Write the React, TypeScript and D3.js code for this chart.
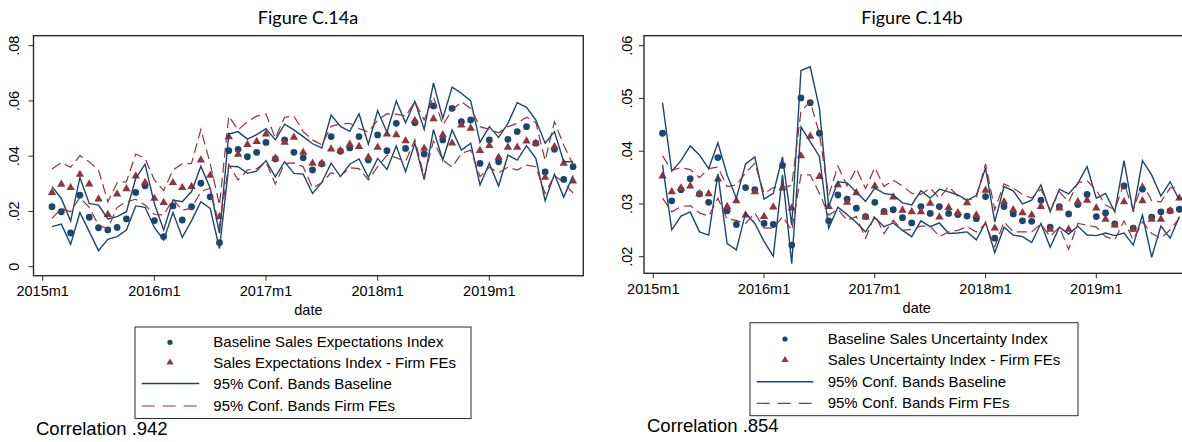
import React from 'react';
import * as d3 from 'd3';

// ---------- DATA ----------
const months = [
  "2015m2","2015m3","2015m4","2015m5","2015m6","2015m7","2015m8","2015m9","2015m10","2015m11","2015m12",
  "2016m1","2016m2","2016m3","2016m4","2016m5","2016m6","2016m7","2016m8","2016m9","2016m10","2016m11","2016m12",
  "2017m1","2017m2","2017m3","2017m4","2017m5","2017m6","2017m7","2017m8","2017m9","2017m10","2017m11","2017m12",
  "2018m1","2018m2","2018m3","2018m4","2018m5","2018m6","2018m7","2018m8","2018m9","2018m10","2018m11","2018m12",
  "2019m1","2019m2","2019m3","2019m4","2019m5","2019m6","2019m7","2019m8","2019m9","2019m10"
];
const xTickLabels = ["2015m1", "2016m1", "2017m1", "2018m1", "2019m1"];
const leftYTicks = [0, 0.02, 0.04, 0.06, 0.08];
const rightYTicks = [0.02, 0.03, 0.04, 0.05, 0.06];

// Figure C.14a : Sales Expectations
const expBaseline = [0.0217,0.0199,0.0122,0.0259,0.0179,0.0141,0.0133,0.0142,0.0173,0.0269,0.0293,0.0167,0.0109,0.0220,0.0169,0.0217,0.0302,0.0253,0.0087,0.0420,0.0425,0.0398,0.0414,0.0450,0.0390,0.0459,0.0414,0.0394,0.0350,0.0372,0.0471,0.0418,0.0430,0.0471,0.0386,0.0477,0.0420,0.0519,0.0428,0.0521,0.0408,0.0582,0.0459,0.0573,0.0525,0.0531,0.0374,0.0459,0.0380,0.0461,0.0489,0.0507,0.0447,0.0343,0.0425,0.0316,0.0362];
const expFirmFE = [0.0268,0.0298,0.0286,0.0334,0.0299,0.0245,0.0189,0.0263,0.0282,0.0328,0.0305,0.0247,0.0232,0.0304,0.0286,0.0290,0.0386,0.0331,0.0181,0.0470,0.0407,0.0442,0.0453,0.0480,0.0392,0.0450,0.0468,0.0414,0.0374,0.0374,0.0426,0.0420,0.0443,0.0435,0.0396,0.0432,0.0480,0.0477,0.0456,0.0529,0.0428,0.0535,0.0477,0.0447,0.0513,0.0501,0.0420,0.0438,0.0396,0.0432,0.0432,0.0455,0.0447,0.0323,0.0434,0.0374,0.0310];
const expBaseUpper = [0.0290,0.0247,0.0165,0.0323,0.0229,0.0223,0.0173,0.0181,0.0199,0.0320,0.0371,0.0229,0.0133,0.0241,0.0235,0.0272,0.0364,0.0284,0.0121,0.0480,0.0489,0.0462,0.0478,0.0500,0.0459,0.0516,0.0495,0.0471,0.0445,0.0430,0.0549,0.0508,0.0490,0.0553,0.0443,0.0565,0.0487,0.0600,0.0521,0.0598,0.0497,0.0665,0.0537,0.0650,0.0628,0.0600,0.0450,0.0507,0.0468,0.0519,0.0594,0.0577,0.0531,0.0447,0.0489,0.0380,0.0380];
const expBaseLower = [0.0145,0.0154,0.0081,0.0196,0.0127,0.0058,0.0099,0.0109,0.0133,0.0220,0.0215,0.0142,0.0097,0.0196,0.0106,0.0167,0.0235,0.0211,0.0066,0.0364,0.0362,0.0338,0.0346,0.0384,0.0325,0.0380,0.0338,0.0335,0.0265,0.0305,0.0375,0.0326,0.0371,0.0390,0.0324,0.0392,0.0352,0.0437,0.0344,0.0447,0.0315,0.0496,0.0386,0.0495,0.0422,0.0447,0.0296,0.0374,0.0292,0.0404,0.0386,0.0438,0.0392,0.0239,0.0335,0.0252,0.0330];
const expFEUpper = [0.0354,0.0377,0.0360,0.0402,0.0380,0.0350,0.0235,0.0304,0.0308,0.0408,0.0392,0.0314,0.0275,0.0350,0.0372,0.0374,0.0497,0.0374,0.0223,0.0545,0.0495,0.0525,0.0545,0.0553,0.0465,0.0541,0.0545,0.0489,0.0459,0.0441,0.0508,0.0517,0.0519,0.0500,0.0488,0.0530,0.0554,0.0552,0.0545,0.0597,0.0531,0.0615,0.0513,0.0567,0.0597,0.0573,0.0507,0.0497,0.0485,0.0507,0.0519,0.0541,0.0522,0.0385,0.0525,0.0440,0.0370];
const expFELower = [0.0175,0.0211,0.0199,0.0251,0.0215,0.0150,0.0138,0.0215,0.0235,0.0244,0.0223,0.0189,0.0187,0.0244,0.0205,0.0211,0.0272,0.0284,0.0145,0.0370,0.0314,0.0350,0.0355,0.0380,0.0299,0.0374,0.0376,0.0362,0.0285,0.0304,0.0340,0.0328,0.0358,0.0355,0.0314,0.0362,0.0404,0.0395,0.0380,0.0460,0.0326,0.0455,0.0386,0.0360,0.0410,0.0422,0.0326,0.0360,0.0340,0.0360,0.0350,0.0368,0.0362,0.0265,0.0330,0.0305,0.0266];

// Figure C.14b : Sales Uncertainty
const uncBaseline = [0.0434,0.0306,0.0327,0.0348,0.0319,0.0303,0.0388,0.0287,0.0261,0.0331,0.0327,0.0263,0.0261,0.0373,0.0222,0.0501,0.0492,0.0434,0.0268,0.0317,0.0309,0.0292,0.0276,0.0303,0.0286,0.0289,0.0274,0.0264,0.0295,0.0282,0.0295,0.0282,0.0280,0.0277,0.0272,0.0314,0.0235,0.0295,0.0281,0.0268,0.0267,0.0307,0.0256,0.0295,0.0281,0.0299,0.0318,0.0276,0.0283,0.0262,0.0334,0.0254,0.0328,0.0275,0.0285,0.0287,0.0290];
const uncFirmFE = [0.0353,0.0323,0.0330,0.0334,0.0319,0.0319,0.0347,0.0295,0.0306,0.0279,0.0323,0.0276,0.0294,0.0330,0.0292,0.0391,0.0428,0.0352,0.0295,0.0336,0.0303,0.0321,0.0275,0.0334,0.0284,0.0313,0.0288,0.0285,0.0285,0.0301,0.0275,0.0293,0.0283,0.0302,0.0279,0.0326,0.0254,0.0304,0.0289,0.0283,0.0279,0.0295,0.0252,0.0292,0.0252,0.0304,0.0307,0.0292,0.0271,0.0260,0.0304,0.0252,0.0306,0.0271,0.0271,0.0287,0.0311];
const uncBaseUpper = [0.0492,0.0362,0.0382,0.0410,0.0393,0.0367,0.0416,0.0355,0.0311,0.0376,0.0389,0.0309,0.0320,0.0389,0.0260,0.0553,0.0560,0.0481,0.0295,0.0342,0.0340,0.0322,0.0305,0.0330,0.0320,0.0317,0.0302,0.0298,0.0325,0.0311,0.0328,0.0323,0.0317,0.0307,0.0316,0.0368,0.0266,0.0333,0.0325,0.0300,0.0307,0.0336,0.0285,0.0328,0.0319,0.0339,0.0371,0.0311,0.0320,0.0285,0.0382,0.0285,0.0382,0.0355,0.0315,0.0342,0.0307];
const uncBaseLower = [0.0374,0.0251,0.0277,0.0285,0.0247,0.0241,0.0357,0.0225,0.0213,0.0283,0.0263,0.0229,0.0201,0.0355,0.0187,0.0446,0.0418,0.0390,0.0254,0.0294,0.0280,0.0265,0.0247,0.0274,0.0257,0.0264,0.0250,0.0238,0.0268,0.0257,0.0264,0.0244,0.0245,0.0247,0.0232,0.0265,0.0208,0.0256,0.0241,0.0238,0.0227,0.0263,0.0218,0.0256,0.0243,0.0258,0.0241,0.0240,0.0245,0.0240,0.0245,0.0222,0.0279,0.0199,0.0258,0.0235,0.0276];
const uncFEUpper = [0.0391,0.0364,0.0369,0.0365,0.0350,0.0367,0.0370,0.0333,0.0336,0.0359,0.0377,0.0320,0.0331,0.0331,0.0335,0.0475,0.0494,0.0433,0.0316,0.0372,0.0334,0.0367,0.0329,0.0369,0.0333,0.0345,0.0334,0.0320,0.0318,0.0330,0.0311,0.0333,0.0315,0.0307,0.0312,0.0376,0.0289,0.0338,0.0330,0.0318,0.0311,0.0328,0.0289,0.0323,0.0304,0.0340,0.0344,0.0326,0.0298,0.0289,0.0339,0.0289,0.0339,0.0306,0.0304,0.0330,0.0333];
const uncFELower = [0.0311,0.0285,0.0295,0.0297,0.0283,0.0277,0.0311,0.0271,0.0269,0.0263,0.0283,0.0254,0.0254,0.0276,0.0250,0.0355,0.0355,0.0320,0.0279,0.0290,0.0269,0.0276,0.0235,0.0279,0.0244,0.0269,0.0250,0.0252,0.0258,0.0258,0.0238,0.0247,0.0250,0.0257,0.0247,0.0263,0.0219,0.0266,0.0247,0.0247,0.0247,0.0262,0.0238,0.0256,0.0214,0.0263,0.0260,0.0256,0.0238,0.0232,0.0268,0.0232,0.0266,0.0244,0.0235,0.0251,0.0273];

const leftLegend = ["Baseline Sales Expectations Index", "Sales Expectations Index - Firm FEs", "95% Conf. Bands Baseline", "95% Conf. Bands Firm FEs"];
const rightLegend = ["Baseline Sales Uncertainty Index", "Sales Uncertainty Index - Firm FEs", "95% Conf. Bands Baseline", "95% Conf. Bands Firm FEs"];

// ---------- STYLE ----------
const NAVY = "#1a476f";
const MAROON = "#90353b";
const FRAME = "#2b2b2b";
const FONT = "'Liberation Sans', Arial, Helvetica, sans-serif";
const TITLE_FONT = "Lato, 'Open Sans', sans-serif";

const monthIndex = (s: string) => {
  const [y, m] = s.split("m").map(Number);
  return (y - 2015) * 12 + (m - 1);
};

const fmtY = (v: number) => (v === 0 ? "0" : d3.format(".2f")(v).replace(/^0/, ""));

type PanelProps = {
  frame: { l: number; t: number; r: number; b: number };
  xPx: [number, number]; // pixel of 2015m1 and 2019m1
  yDomain: [number, number];
  yRange: [number, number];
  yTicks: number[];
  yLabelX: number;
  xLabelY: number;
  dateY: number;
  title: string;
  titleX: number;
  base: number[];
  fe: number[];
  baseHi: number[];
  baseLo: number[];
  feHi: number[];
  feLo: number[];
  legend: string[];
  legendBox: { l: number; t: number; r: number; b: number };
  legendRows: number[];
  legendSymX: number;
  legendLine: [number, number];
  legendTextX: number;
  corr: string;
  corrPos: [number, number];
};

function Panel(p: PanelProps) {
  const x = d3.scaleLinear().domain([0, 48]).range(p.xPx);
  const y = d3.scaleLinear().domain(p.yDomain).range(p.yRange);
  const xs = months.map(monthIndex);
  const line = (vals: number[]) =>
    d3.line<number>().x((_, i) => x(xs[i])).y((v) => y(v))(vals) || "";
  const tri = d3.symbol().type(d3.symbolTriangle).size(30)() || "";
  const triSmall = d3.symbol().type(d3.symbolTriangle).size(22)() || "";
  const { l, t, r, b } = p.frame;
  const cx = (l + r) / 2;
  return (
    <g>
      <text x={p.titleX} y={24} textAnchor="middle" fontFamily={TITLE_FONT} fontSize={18} fill="#000">
        {p.title}
      </text>
      {/* y ticks */}
      {p.yTicks.map((v) => (
        <g key={"yt" + v}>
          <line x1={l - 5} x2={l} y1={y(v)} y2={y(v)} stroke={FRAME} strokeWidth={1} />
          <text
            transform={`translate(${p.yLabelX},${y(v)}) rotate(-90)`}
            textAnchor="middle"
            fontFamily={FONT}
            fontSize={14.5}
            fill="#000"
          >
            {fmtY(v)}
          </text>
        </g>
      ))}
      {/* x ticks */}
      {xTickLabels.map((s) => (
        <g key={"xt" + s}>
          <line x1={x(monthIndex(s))} x2={x(monthIndex(s))} y1={b} y2={b + 5} stroke={FRAME} strokeWidth={1} />
          <text x={x(monthIndex(s))} y={p.xLabelY} textAnchor="middle" fontFamily={FONT} fontSize={14.5} fill="#000">
            {s}
          </text>
        </g>
      ))}
      <text x={cx} y={p.dateY} textAnchor="middle" fontFamily={FONT} fontSize={14.5} fill="#000">
        date
      </text>
      {/* markers */}
      {p.base.map((v, i) => (
        <circle key={"c" + i} cx={x(xs[i])} cy={y(v)} r={3.4} fill={NAVY} />
      ))}
      {p.fe.map((v, i) => (
        <path key={"t" + i} d={tri} transform={`translate(${x(xs[i])},${y(v)})`} fill={MAROON} />
      ))}
      {/* bands */}
      <path d={line(p.baseHi)} fill="none" stroke={NAVY} strokeWidth={1.4} strokeLinejoin="miter" />
      <path d={line(p.baseLo)} fill="none" stroke={NAVY} strokeWidth={1.4} strokeLinejoin="miter" />
      <path d={line(p.feHi)} fill="none" stroke={MAROON} strokeWidth={1.2} strokeDasharray="10,5" />
      <path d={line(p.feLo)} fill="none" stroke={MAROON} strokeWidth={1.2} strokeDasharray="10,5" />
      {/* frame */}
      <rect x={l} y={t} width={r - l} height={b - t} fill="none" stroke={FRAME} strokeWidth={1.4} />
      {/* legend */}
      <rect
        x={p.legendBox.l}
        y={p.legendBox.t}
        width={p.legendBox.r - p.legendBox.l}
        height={p.legendBox.b - p.legendBox.t}
        fill="#fff"
        stroke={FRAME}
        strokeWidth={1}
      />
      <circle cx={p.legendSymX} cy={p.legendRows[0]} r={2.6} fill={NAVY} />
      <path d={triSmall} transform={`translate(${p.legendSymX},${p.legendRows[1]})`} fill={MAROON} />
      <line x1={p.legendLine[0]} x2={p.legendLine[1]} y1={p.legendRows[2]} y2={p.legendRows[2]} stroke={NAVY} strokeWidth={1.4} />
      <line
        x1={p.legendLine[0]}
        x2={p.legendLine[1]}
        y1={p.legendRows[3]}
        y2={p.legendRows[3]}
        stroke={MAROON}
        strokeWidth={1.2}
        strokeDasharray="13,8"
      />
      {p.legend.map((s, i) => (
        <text key={"lg" + i} x={p.legendTextX} y={p.legendRows[i] + 5} fontFamily={FONT} fontSize={15} fill="#000">
          {s}
        </text>
      ))}
      <text x={p.corrPos[0]} y={p.corrPos[1]} fontFamily={FONT} fontSize={18.5} fill="#000">
        {p.corr}
      </text>
    </g>
  );
}

export default function App() {
  return (
    <svg
      width={1182}
      height={442}
      style={{ position: "absolute", left: 0, top: 0, background: "#fff" }}
    >
      <rect x={0} y={0} width={1182} height={442} fill="#fff" />
      <Panel
        frame={{ l: 33.5, t: 35.7, r: 583.3, b: 275.7 }}
        xPx={[42.7, 489.3]}
        yDomain={[0, 0.08]}
        yRange={[266.7, 45.7]}
        yTicks={leftYTicks}
        yLabelX={19}
        xLabelY={296}
        dateY={315}
        title="Figure C.14a"
        titleX={308}
        base={expBaseline}
        fe={expFirmFE}
        baseHi={expBaseUpper}
        baseLo={expBaseLower}
        feHi={expFEUpper}
        feLo={expFELower}
        legend={leftLegend}
        legendBox={{ l: 135, t: 327, r: 471, b: 418.5 }}
        legendRows={[342.3, 362.5, 383.5, 406]}
        legendSymX={170}
        legendLine={[141.7, 199.3]}
        legendTextX={213.3}
        corr="Correlation .942"
        corrPos={[36, 435]}
      />
      <Panel
        frame={{ l: 644, t: 35.7, r: 1189.4, b: 273.3 }}
        xPx={[653.3, 1096.3]}
        yDomain={[0.02, 0.06]}
        yRange={[256.7, 45.7]}
        yTicks={rightYTicks}
        yLabelX={631.5}
        xLabelY={294}
        dateY={312.7}
        title="Figure C.14b"
        titleX={912}
        base={uncBaseline}
        fe={uncFirmFE}
        baseHi={uncBaseUpper}
        baseLo={uncBaseLower}
        feHi={uncFEUpper}
        feLo={uncFELower}
        legend={rightLegend}
        legendBox={{ l: 750, t: 322.7, r: 1078, b: 415.7 }}
        legendRows={[339, 360, 381.7, 403.3]}
        legendSymX={785}
        legendLine={[756.7, 813.3]}
        legendTextX={827.7}
        corr="Correlation .854"
        corrPos={[647, 432]}
      />
    </svg>
  );
}
